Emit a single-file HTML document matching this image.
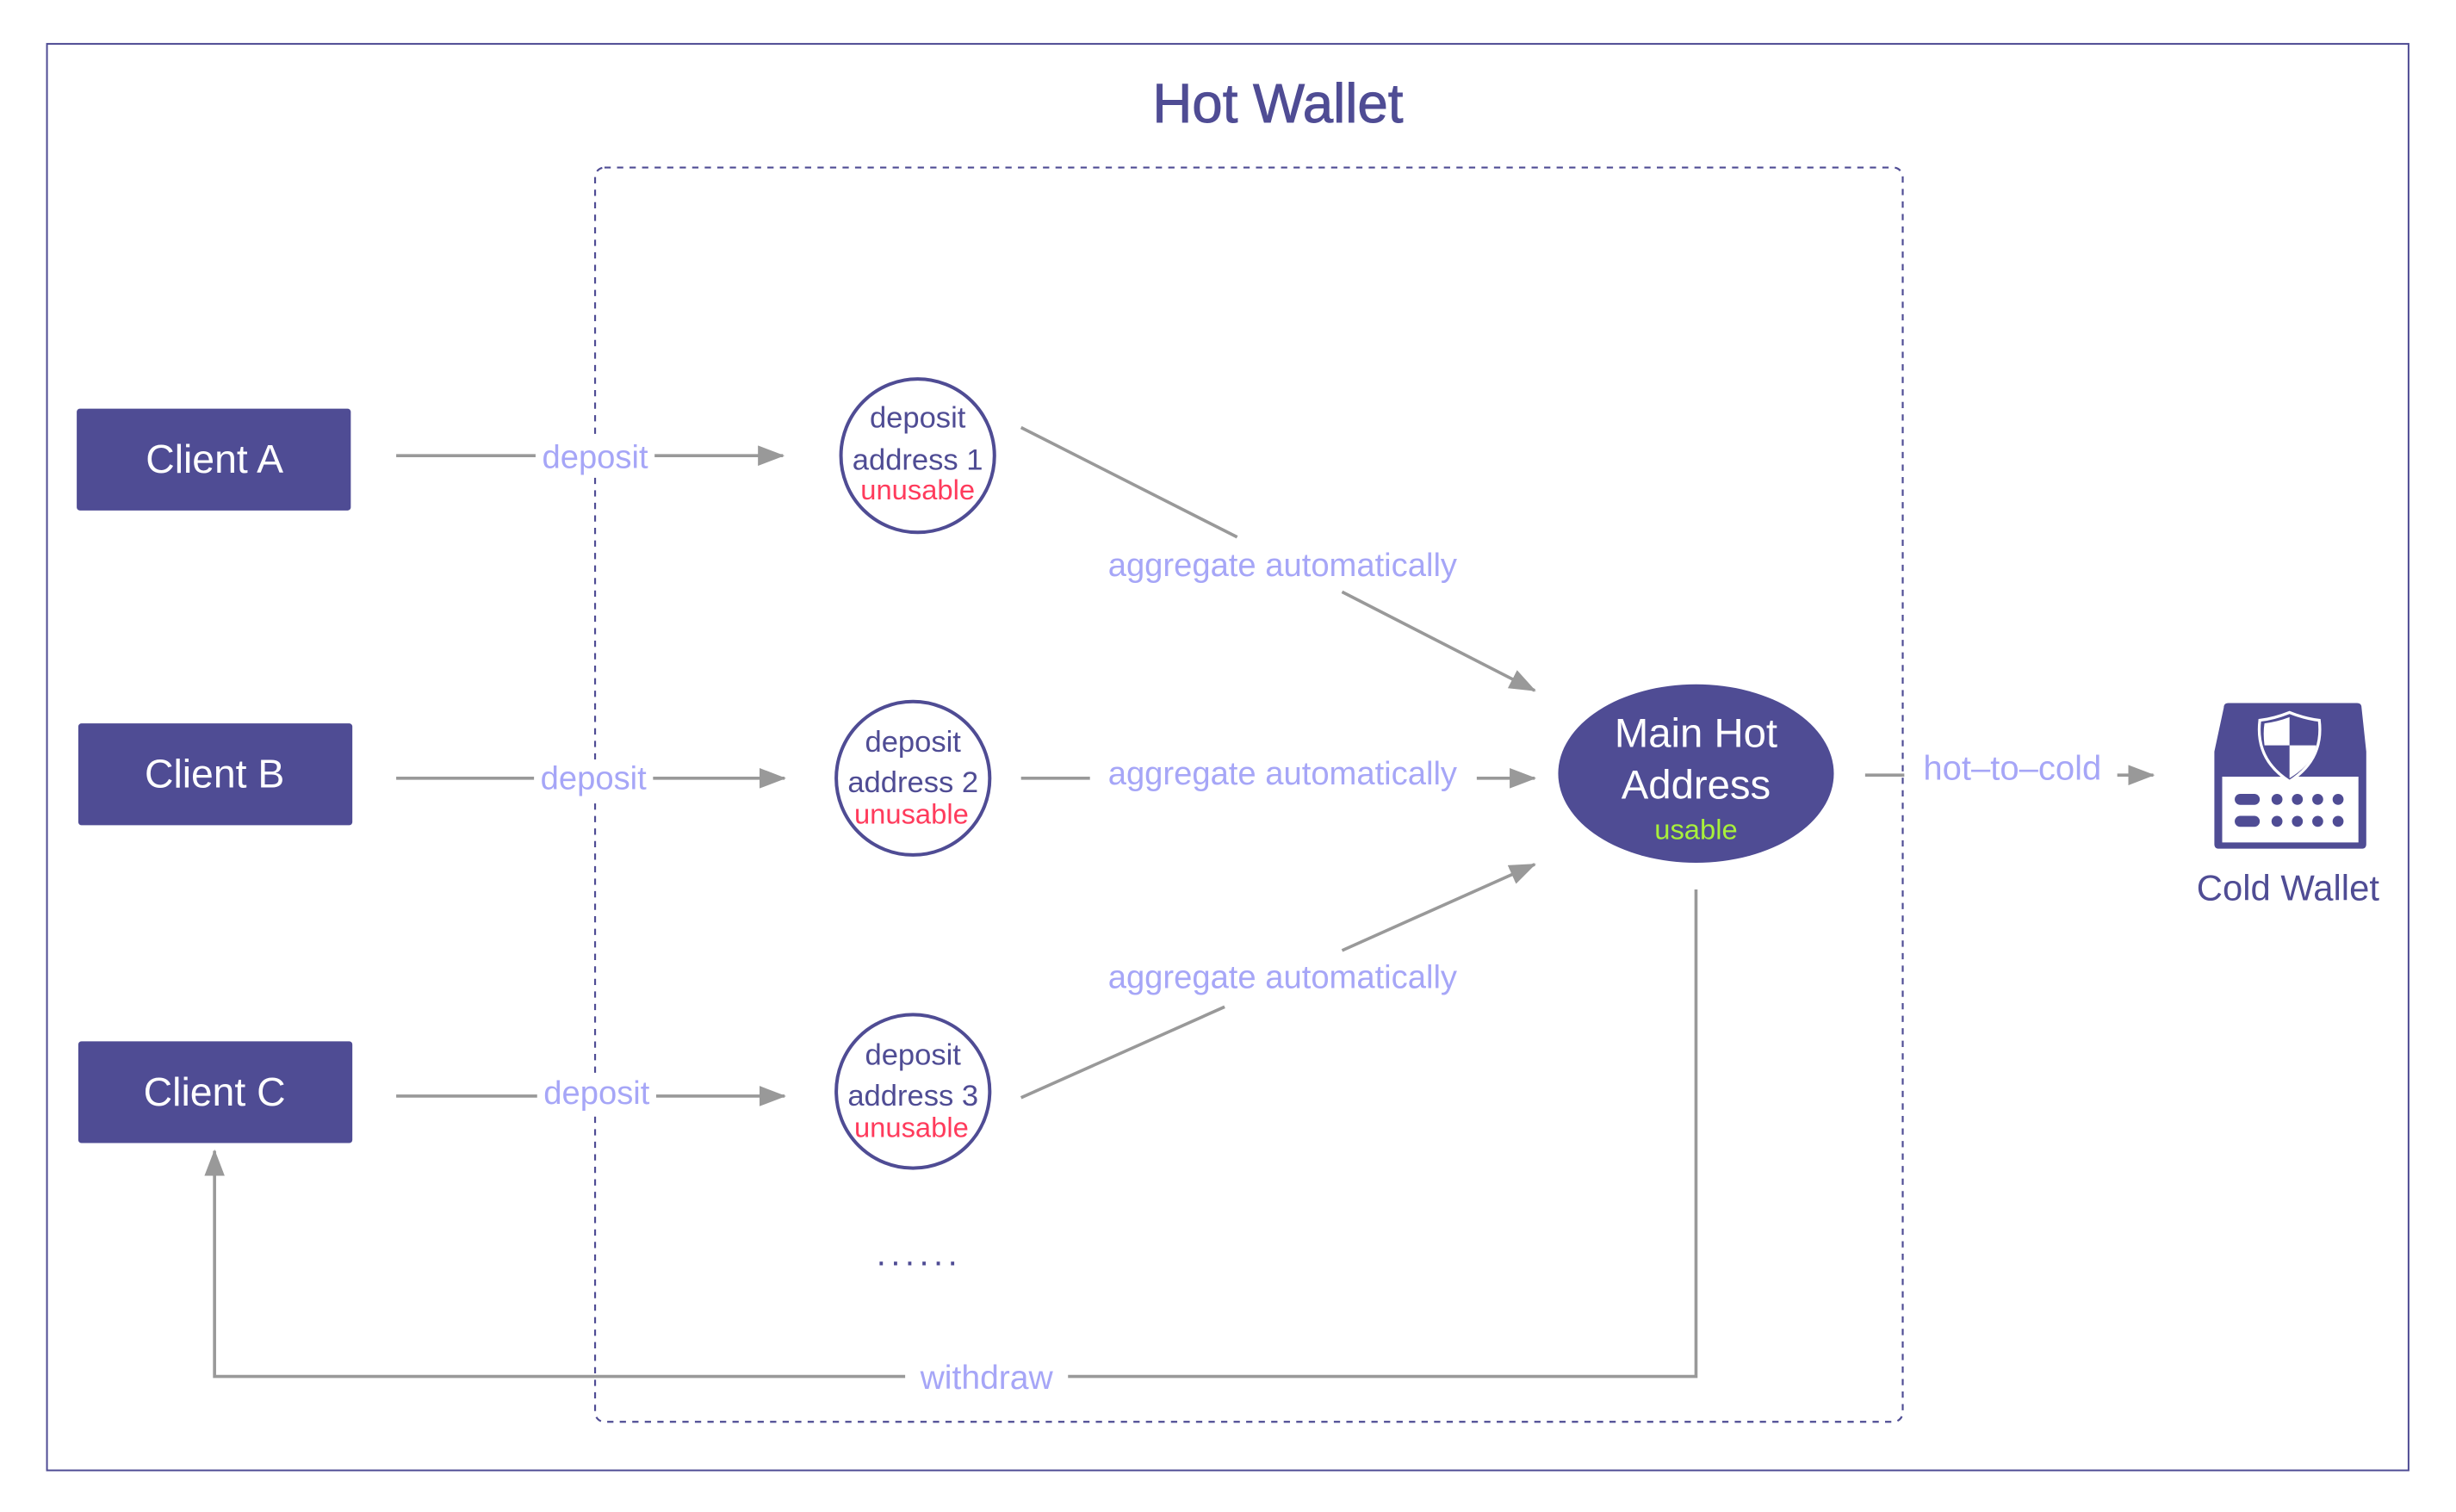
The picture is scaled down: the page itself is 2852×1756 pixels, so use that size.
<!DOCTYPE html>
<html><head><meta charset="utf-8"><style>
html,body{margin:0;padding:0;background:#fff;}
svg{display:block;}
text{font-family:"Liberation Sans",sans-serif;}
</style></head><body>
<svg width="2852" height="1756" viewBox="0 0 1568.3 965.6" preserveAspectRatio="none" xmlns="http://www.w3.org/2000/svg">
<defs>
<marker id="ar2" markerWidth="17" markerHeight="13" refX="16" refY="6.5" orient="auto" markerUnits="userSpaceOnUse" viewBox="0 0 17 13">
<path d="M0,0 L17,6.5 L0,13 z" fill="#999"/></marker>
</defs>
<rect x="30" y="28" width="1508" height="911" fill="none" stroke="#4f4c94" stroke-width="1.1"/>
<text x="816" y="78" text-anchor="middle" font-size="35" fill="#4f4c94" stroke="#4f4c94" stroke-width="0.5">Hot Wallet</text>
<rect x="380" y="107" width="835" height="801" rx="6" fill="none" stroke="#4f4c94" stroke-width="1.2" stroke-dasharray="4,4"/>

<g fill="#4f4c94">
<rect x="49" y="261" width="175" height="65" rx="2"/>
<rect x="50" y="462" width="175" height="65" rx="2"/>
<rect x="50" y="665" width="175" height="65" rx="2"/>
</g>
<g fill="#fff" font-size="25.5" text-anchor="middle">
<text x="137" y="302">Client A</text>
<text x="137" y="503">Client B</text>
<text x="137" y="706">Client C</text>
</g>

<g stroke="#999" stroke-width="2" fill="none">
<line x1="253" y1="291" x2="342" y2="291"/><line x1="418" y1="291" x2="500" y2="291" marker-end="url(#ar2)"/>
<line x1="253" y1="497" x2="341" y2="497"/><line x1="417" y1="497" x2="501" y2="497" marker-end="url(#ar2)"/>
<line x1="253" y1="700" x2="343" y2="700"/><line x1="419" y1="700" x2="501" y2="700" marker-end="url(#ar2)"/>
<line x1="652" y1="273" x2="790" y2="343"/><line x1="857" y1="378" x2="980" y2="441" marker-end="url(#ar2)"/>
<line x1="652" y1="497" x2="696" y2="497"/><line x1="943" y1="497" x2="980" y2="497" marker-end="url(#ar2)"/>
<line x1="652" y1="701" x2="782" y2="643"/><line x1="857" y1="607" x2="980" y2="552" marker-end="url(#ar2)"/>
<line x1="1191" y1="495" x2="1216" y2="495"/><line x1="1352" y1="495" x2="1375" y2="495" marker-end="url(#ar2)"/>
<polyline points="1083,568 1083,879 682,879"/>
<polyline points="578,879 137,879 137,735" marker-end="url(#ar2)"/>
</g>
<g fill="#fff">
<rect x="343" y="279" width="74" height="26"/>
<rect x="342" y="485" width="74" height="26"/>
<rect x="344" y="687" width="74" height="26"/>
</g>
<g fill="#a6a6f7" font-size="21" text-anchor="middle">
<text x="380" y="299">deposit</text>
<text x="379" y="504">deposit</text>
<text x="381" y="705">deposit</text>
<text x="819" y="368">aggregate automatically</text>
<text x="819" y="501">aggregate automatically</text>
<text x="819" y="631">aggregate automatically</text>
<text x="1285" y="498" font-size="22">hot–to–cold</text>
<text x="630" y="887" font-size="21.5">withdraw</text>
</g>

<g fill="#fff" stroke="#4f4c94" stroke-width="2.2">
<ellipse cx="586" cy="291" rx="49" ry="49"/>
<ellipse cx="583" cy="497" rx="49" ry="49"/>
<ellipse cx="583" cy="697" rx="49" ry="49"/>
</g>
<g text-anchor="middle" font-size="19" fill="#4f4c94">
<text x="586" y="273">deposit</text><text x="586" y="300">address 1</text>
<text x="583" y="480">deposit</text><text x="583" y="506">address 2</text>
<text x="583" y="680">deposit</text><text x="583" y="706">address 3</text>
</g>
<g text-anchor="middle" font-size="18" fill="#ff3b5c">
<text x="586" y="319">unusable</text>
<text x="582" y="526">unusable</text>
<text x="582" y="726">unusable</text>
</g>
<text x="587" y="808" text-anchor="middle" font-size="22" fill="#4f4c94" letter-spacing="3">......</text>

<ellipse cx="1083" cy="494" rx="88" ry="57" fill="#4f4c94"/>
<g text-anchor="middle" fill="#fff" font-size="26">
<text x="1083" y="477">Main Hot</text>
<text x="1083" y="510">Address</text>
</g>
<text x="1083" y="536" text-anchor="middle" font-size="18" fill="#a8f03a">usable</text>

<path d="M1420,452 Q1420,449 1423,449 L1505,449 Q1508,449 1508,452 L1511,480 L1511,539 Q1511,542 1508,542 L1417,542 Q1414,542 1414,539 L1414,480 Z" fill="#4f4c94"/>
<rect x="1419" y="496" width="87" height="42" fill="#fff"/>
<g fill="#4f4c94">
<rect x="1427" y="507" width="16" height="7" rx="3.5"/><rect x="1427" y="521" width="16" height="7" rx="3.5"/>
<circle cx="1454" cy="510.5" r="3.5"/><circle cx="1467" cy="510.5" r="3.5"/><circle cx="1480" cy="510.5" r="3.5"/><circle cx="1493" cy="510.5" r="3.5"/>
<circle cx="1454" cy="524.5" r="3.5"/><circle cx="1467" cy="524.5" r="3.5"/><circle cx="1480" cy="524.5" r="3.5"/><circle cx="1493" cy="524.5" r="3.5"/>
</g>
<path d="M1462,455 Q1472,459 1481,460 Q1484,485 1462,499 Q1440,485 1443,460 Q1452,459 1462,455 Z" fill="#4f4c94" stroke="#fff" stroke-width="1.8"/>
<path d="M1462,458 L1462,476 L1446,476 Q1445,468 1446,462 Q1454,461 1462,458 Z" fill="#fff"/>
<path d="M1462,476 L1479,476 Q1477,488 1462,497 Z" fill="#fff"/>
<text x="1461" y="575" text-anchor="middle" font-size="23" fill="#4f4c94">Cold Wallet</text>
</svg>
</body></html>
